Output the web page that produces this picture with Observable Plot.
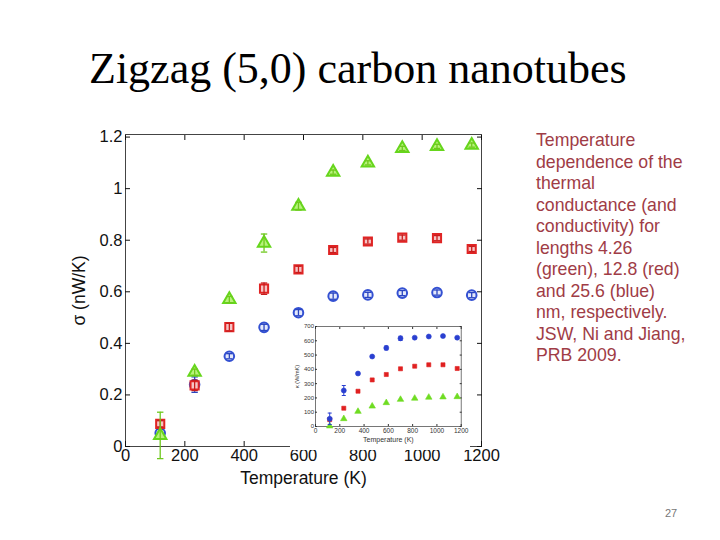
<!DOCTYPE html>
<html>
<head>
<meta charset="utf-8">
<script src="https://cdn.jsdelivr.net/npm/d3@7"></script>
<script src="https://cdn.jsdelivr.net/npm/@observablehq/plot@0.6"></script>
<style>
  html, body { margin: 0; padding: 0; background: #fff; }
  #page { position: relative; width: 720px; height: 540px; overflow: hidden; background: #fff; }
  #title { position: absolute; left: 0; top: 47px; width: 720px; text-align: left; padding-left: 89px; box-sizing: border-box;
           font-family: "Liberation Serif", "Times New Roman", serif; font-size: 44px; color: #000; white-space: nowrap; line-height: 1; }
  #side { position: absolute; left: 536px; top: 130px; width: 180px; font-family: "Liberation Sans", Arial, sans-serif;
          font-size: 17.7px; line-height: 21.55px; color: #a03c46; }
  #pnum { position: absolute; left: 665px; top: 507px; font-family: "Liberation Sans", Arial, sans-serif; font-size: 11px; color: #777; }
  #main { position: absolute; left: 0; top: 0; }
  #inset { position: absolute; left: 290px; top: 320px; }
</style>
</head>
<body>
<div id="page">
  <div id="title">Zigzag (5,0) carbon nanotubes</div>
  <div id="main"></div>
  <div id="inset"></div>
  <div id="side">Temperature<br>dependence of the<br>thermal<br>conductance (and<br>conductivity) for<br>lengths 4.26<br>(green), 12.8 (red)<br>and 25.6 (blue)<br>nm, respectively.<br>JSW, Ni and Jiang,<br>PRB 2009.</div>
  <div id="pnum">27</div>
</div>
<script>
// Temperatures (K)
const temps = [117, 233, 350, 467, 583, 700, 817, 933, 1050, 1167];

// Thermal conductance sigma (nW/K), main panel
const sigmaGreen = [0.043, 0.288, 0.570, 0.789, 0.932, 1.064, 1.100, 1.156, 1.164, 1.169];
const sigmaGreenErr = [0.09, 0.012, 0.012, 0.035, 0.015, 0.008, 0.008, 0.008, 0.008, 0.008];
const sigmaRed = [0.088, 0.237, 0.463, 0.612, 0.687, 0.762, 0.795, 0.810, 0.808, 0.766];
const sigmaRedErr = [0.012, 0.02, 0.015, 0.022, 0.012, 0.01, 0.01, 0.01, 0.01, 0.01];
const sigmaBlue = [0.052, 0.240, 0.350, 0.462, 0.519, 0.583, 0.588, 0.595, 0.597, 0.587];
const sigmaBlueErr = [0.015, 0.03, 0.01, 0.012, 0.012, 0.012, 0.01, 0.01, 0.01, 0.01];

// Thermal conductivity kappa (W/mK), inset
const kappaBlue = [54, 252, 371, 490, 550, 617, 622, 630, 633, 622];
const kappaBlueErr = [40, 35, 8, 10, 14, 15, 6, 6, 6, 6];
const kappaRed = [48, 128, 247, 326, 364, 404, 422, 432, 432, 406];
const kappaGreen = [3, 54, 105, 142, 166, 189, 197, 204, 206, 208];

const xTicks = [0, 200, 400, 600, 800, 1000, 1200];
const yTicksMain = [0, 0.2, 0.4, 0.6, 0.8, 1, 1.2];
const yTicksInset = [0, 100, 200, 300, 400, 500, 600, 700];

const series = [
  {name: "green", vals: sigmaGreen, err: sigmaGreenErr, symbol: "triangle", stroke: "#66d61c", fill: "#b8f27c", r: 4.6, bar: "#6fc81e"},
  {name: "red", vals: sigmaRed, err: sigmaRedErr, symbol: "square", stroke: "#e02424", fill: "#f7c4c4", r: 4.6, bar: "#c81c1c"},
  {name: "blue", vals: sigmaBlue, err: sigmaBlueErr, symbol: "circle", stroke: "#3350d2", fill: "#e4e9fb", r: 4.8, bar: "#2a45c0"}
];

const capSymbol = { draw(ctx, size) { const w = Math.sqrt(size / Math.PI); ctx.moveTo(-w, 0); ctx.lineTo(w, 0); } };

const font = "'Liberation Sans', Arial, sans-serif";
const plain = d => String(d);

const drawOrder = [series[2], series[1], series[0]];
const mainMarks = [];
for (const s of drawOrder) {
  const rows = temps.map((t, i) => ({T: t, v: s.vals[i], e: s.err[i]}));
  mainMarks.push(
    Plot.dot(rows, {x: "T", y: "v", symbol: s.symbol, r: s.r, stroke: s.stroke, fill: s.fill, strokeWidth: 2}),
    Plot.ruleX(rows, {x: "T", y1: d => d.v - d.e, y2: d => d.v + d.e, stroke: s.bar, strokeWidth: 1.3}),
    Plot.dot(rows, {x: "T", y: d => d.v + d.e, symbol: capSymbol, r: 3.2, stroke: s.bar, strokeWidth: 1.3}),
    Plot.dot(rows, {x: "T", y: d => d.v - d.e, symbol: capSymbol, r: 3.2, stroke: s.bar, strokeWidth: 1.3})
  );
}

const main = Plot.plot({
  width: 520, height: 500,
  marginLeft: 125, marginRight: 39, marginTop: 134, marginBottom: 54,
  x: {domain: [0, 1200]},
  y: {domain: [0, 1.21]},
  style: {fontFamily: font, fontSize: "16px", color: "#111", background: "transparent", overflow: "visible"},
  marks: [
    Plot.frame({stroke: "#444", strokeWidth: 1}),
    Plot.axisX({ticks: xTicks, tickSize: -5, tickPadding: 8, tickFormat: plain, label: "Temperature (K)", labelAnchor: "center", labelArrow: "none", labelOffset: 37, fontSize: 16.5}),
    Plot.axisX({anchor: "top", ticks: xTicks, tickSize: -5, tickFormat: () => "", label: null}),
    Plot.axisY({ticks: yTicksMain, tickSize: -5, tickPadding: 8, tickFormat: plain, label: "σ (nW/K)", labelAnchor: "center", labelArrow: "none", labelOffset: 53, fontSize: 16.5}),
    Plot.axisY({anchor: "right", ticks: yTicksMain, tickSize: -5, tickFormat: () => "", label: null}),
    ...mainMarks
  ]
});
main.querySelectorAll("g[aria-label='x-axis label'] text, g[aria-label='y-axis label'] text").forEach(t => t.style.fontSize = "17.5px");
document.getElementById("main").appendChild(main);

// Inset
const insetSeries = [
  {vals: kappaGreen, err: null, symbol: "triangle", color: "#6fdc22", r: 2.4},
  {vals: kappaRed, err: null, symbol: "square", color: "#e02020", r: 2.3},
  {vals: kappaBlue, err: kappaBlueErr, symbol: "circle", color: "#2a3fd0", r: 2.5}
];
const insetMarks = [];
for (const s of insetSeries) {
  const rows = temps.map((t, i) => ({T: t, v: s.vals[i], e: s.err ? s.err[i] : 0}));
  if (s.err) {
    insetMarks.push(
      Plot.ruleX(rows, {x: "T", y1: d => d.v - d.e, y2: d => d.v + d.e, stroke: s.color, strokeWidth: 1}),
      Plot.dot(rows.filter(d => d.e > 12), {x: "T", y: d => d.v + d.e, symbol: capSymbol, r: 2, stroke: s.color, strokeWidth: 1}),
      Plot.dot(rows.filter(d => d.e > 12), {x: "T", y: d => d.v - d.e, symbol: capSymbol, r: 2, stroke: s.color, strokeWidth: 1})
    );
  }
  insetMarks.push(Plot.dot(rows, {x: "T", y: "v", symbol: s.symbol, r: s.r, fill: s.color, stroke: s.color, strokeWidth: 0.6}));
}

const inset = Plot.plot({
  width: 180, height: 130,
  marginLeft: 25, marginRight: 9.3, marginTop: 6, marginBottom: 24,
  x: {domain: [0, 1200]},
  y: {domain: [0, 700]},
  style: {fontFamily: font, fontSize: "6.5px", color: "#333", background: "#fff", overflow: "visible"},
  marks: [
    Plot.frame({stroke: "#555", strokeWidth: 0.8}),
    Plot.axisX({ticks: xTicks, tickSize: -2, tickPadding: 4, tickFormat: plain, label: "Temperature (K)", labelAnchor: "center", labelArrow: "none", labelOffset: 15, fontSize: 6.5}),
    Plot.axisX({anchor: "top", ticks: xTicks, tickSize: -2, tickFormat: () => "", label: null}),
    Plot.axisY({ticks: yTicksInset, tickSize: -2, tickPadding: 3.5, tickFormat: plain, label: "κ (W/mK)", labelAnchor: "center", labelArrow: "none", labelOffset: 20, fontSize: 6}),
    Plot.axisY({anchor: "right", ticks: yTicksInset, tickSize: -2, tickFormat: () => "", label: null}),
    ...insetMarks
  ]
});
inset.querySelectorAll("g[aria-label='x-axis label'] text").forEach(t => t.style.fontSize = "7px");
inset.querySelectorAll("g[aria-label='y-axis label'] text").forEach(t => t.style.fontSize = "5.5px");
document.getElementById("inset").appendChild(inset);
</script>
</body>
</html>
